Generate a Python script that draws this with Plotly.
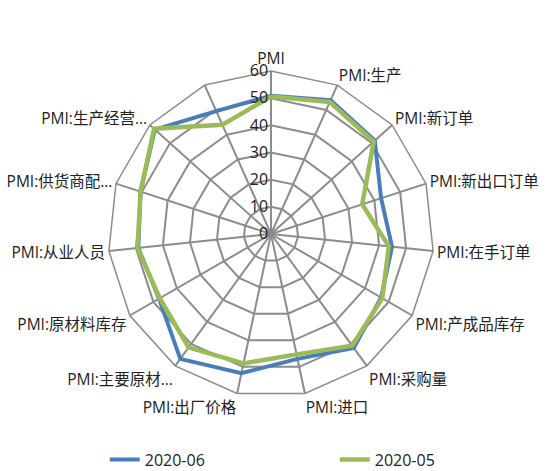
import plotly.graph_objects as go

categories = ["PMI", "PMI:生产", "PMI:新订单", "PMI:新出口订单", "PMI:在手订单",
              "PMI:产成品库存", "PMI:采购量", "PMI:进口", "PMI:出厂价格",
              "PMI:主要原材…", "PMI:原材料库存", "PMI:从业人员", "PMI:供货商配…",
              "PMI:生产经营…", " "]
jun_2020 = [50.9, 53.9, 51.4, 42.6, 44.8, 46.8, 51.8, 47.0, 52.4, 56.8, 47.6, 49.1, 50.5, 57.5, 49.5]
may_2020 = [50.6, 53.2, 50.9, 35.3, 43.6, 47.3, 50.8, 45.3, 48.7, 51.6, 47.3, 49.4, 50.5, 57.9, 44.0]
radial_ticks = [0, 10, 20, 30, 40, 50, 60]

BLUE = "#4A7EBB"
GREEN = "#9BBB59"
GRID = "#8C8C8C"
FONT = "Open Sans, Noto Sans CJK SC, sans-serif"

fig = go.Figure()
fig.add_trace(go.Scatterpolar(
    r=jun_2020 + [jun_2020[0]], theta=categories + [categories[0]],
    mode="lines", name="2020-06", line=dict(color=BLUE, width=4)))
fig.add_trace(go.Scatterpolar(
    r=may_2020 + [may_2020[0]], theta=categories + [categories[0]],
    mode="lines", name="2020-05", line=dict(color=GREEN, width=4.5)))

W, H = 547, 471
cx, cy, R = 271, 234, 163
fig.update_layout(
    width=W, height=H,
    margin=dict(l=0, r=0, t=0, b=0, autoexpand=False),
    paper_bgcolor="white",
    font=dict(family=FONT, size=15, color="#222222"),
    polar=dict(
        domain=dict(x=[(cx - R) / W, (cx + R) / W],
                    y=[(H - cy - R) / H, (H - cy + R) / H]),
        bgcolor="white",
        gridshape="linear",
        angularaxis=dict(
            direction="clockwise", rotation=90, type="category",
            categoryorder="array", categoryarray=categories,
            showline=True, linecolor=GRID, linewidth=1.5,
            gridcolor=GRID, gridwidth=1.5, ticks="",
            tickfont=dict(size=15.5, family=FONT, color="#222222"),
        ),
        radialaxis=dict(
            range=[0, 60], tickvals=radial_ticks, angle=90,
            side="counterclockwise", tickangle=90,
            showline=False, ticks="",
            gridcolor=GRID, gridwidth=1.5,
            tickfont=dict(size=16, family=FONT, color="#222222"),
        ),
    ),
    legend=dict(orientation="h", x=0.612, xanchor="center", y=-0.012, yanchor="bottom",
                entrywidth=185, entrywidthmode="pixels",
                font=dict(size=16, family=FONT, color="#222222")),
    showlegend=True,
)

fig.write_html("out.html")
